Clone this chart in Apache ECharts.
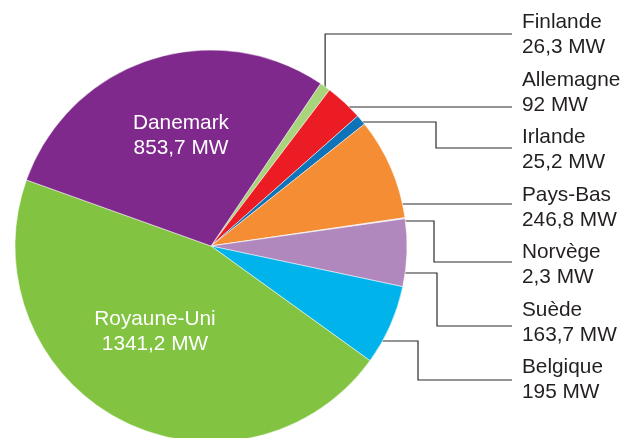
<!DOCTYPE html>
<html><head><meta charset="utf-8">
<script src="https://cdn.jsdelivr.net/npm/echarts@6/dist/echarts.min.js"></script>
<style>html,body{margin:0;padding:0;background:#fff}#c{width:623px;height:438px}</style>
</head><body><div id="c"></div>
<script>
// Data
const countries = ['Finlande', 'Allemagne', 'Irlande', 'Pays-Bas', 'Norvège', 'Suède', 'Belgique', 'Royaune-Uni', 'Danemark'];
const capacityMW = [26.3, 92, 25.2, 246.8, 2.3, 163.7, 195, 1341.2, 853.7];
const sliceColors = ['#a8d47c', '#ec1c24', '#0f73ba', '#f48d34', '#d9d2e6', '#b088bd', '#00b3ea', '#82c341', '#80298d'];

// Label placement (annotation layout, not data)
const labelTextX = 522, lineEndX = 512;
const labelCenterY = [35, 93, 150, 208, 265, 323, 380];
const lineEndY = [34, 107, 148, 204, 262, 326, 380];
const lineStartY = [null, 107, 122, 204, 221, 273, 341];
const elbowX = [null, null, 436, null, 434, 437, 418];
const insideLabelPos = { 7: [155, 332], 8: [181, 136] };

const chart = echarts.init(document.getElementById('c'), null, { renderer: 'canvas' });

function fmt(v) { return String(v).replace('.', ','); }

const seriesData = countries.map((name, i) => {
  const item = { name: name, value: capacityMW[i], itemStyle: { color: sliceColors[i] } };
  if (insideLabelPos[i]) {
    item.label = { position: 'inside', color: '#ffffff' };
    item.labelLine = { show: false };
  }
  return item;
});

chart.setOption({
  animation: false,
  backgroundColor: '#ffffff',
  series: [{
    type: 'pie',
    center: [211, 246],
    radius: 196,
    startAngle: 56,
    clockwise: true,
    avoidLabelOverlap: false,
    silent: true,
    itemStyle: { borderColor: '#ffffff', borderWidth: 0.5 },
    label: {
      show: true,
      position: 'outside',
      formatter: p => p.name + '\n' + fmt(p.value) + ' MW',
      fontFamily: 'Liberation Sans, Arial, sans-serif',
      fontSize: 20.8,
      lineHeight: 25,
      color: '#231f20'
    },
    labelLine: { show: true, length: 10, length2: 10, smooth: false, lineStyle: { color: '#2b2b2b', width: 1.2 } },
    labelLayout: function (p) {
      const i = p.dataIndex;
      if (insideLabelPos[i]) {
        return { x: insideLabelPos[i][0], y: insideLabelPos[i][1], align: 'center', verticalAlign: 'middle' };
      }
      const lay = chart.getModel().getSeriesByIndex(0).getData().getItemLayout(i);
      const cx = lay.cx, cy = lay.cy, r = lay.r;
      let ax, ay, pts;
      if (lineStartY[i] == null) {
        const mid = (lay.startAngle + lay.endAngle) / 2;
        ax = cx + r * Math.cos(mid);
        ay = cy + r * Math.sin(mid);
        pts = [[ax, ay], [ax, lineEndY[i]], [lineEndX, lineEndY[i]]];
      } else {
        ay = lineStartY[i];
        ax = cx + Math.sqrt(Math.max(0, r * r - (ay - cy) * (ay - cy)));
        if (elbowX[i] == null) {
          pts = [[ax, ay], [lineEndX, ay]];
        } else {
          pts = [[ax, ay], [elbowX[i], ay], [elbowX[i], lineEndY[i]], [lineEndX, lineEndY[i]]];
        }
      }
      return { x: labelTextX, y: labelCenterY[i], align: 'left', verticalAlign: 'middle', labelLinePoints: pts };
    },
    data: seriesData
  }]
});
</script>
</body></html>
